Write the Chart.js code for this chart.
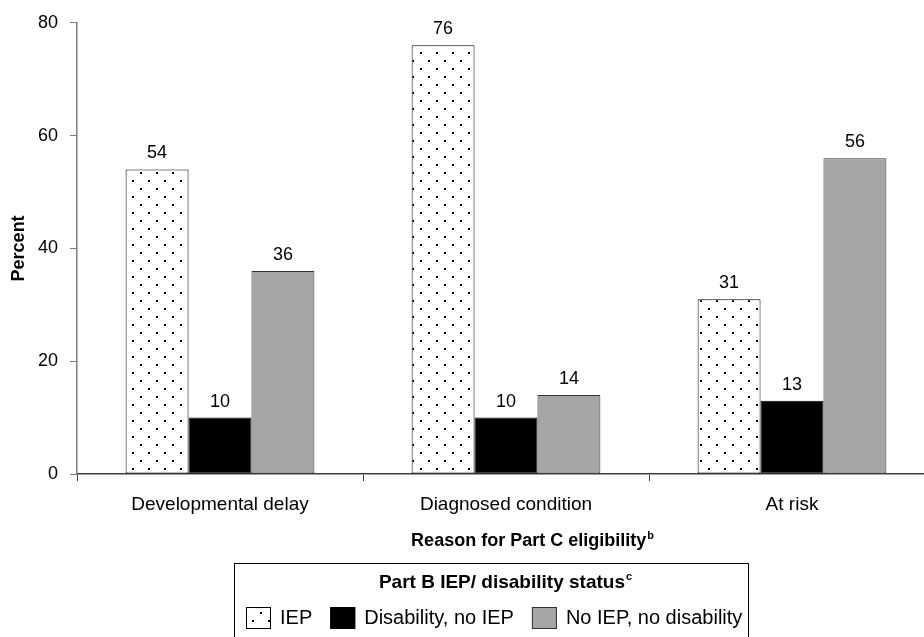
<!DOCTYPE html>
<html>
<head>
<meta charset="utf-8">
<script src="https://cdn.jsdelivr.net/npm/chart.js@4.4.0/dist/chart.umd.min.js"></script>
<style>
    html, body { margin: 0; padding: 0; background: #fff; overflow: hidden; }
    #wrap { width: 936px; height: 637px; }
</style>
</head>
<body>
<div id="wrap"><canvas id="chart" width="936" height="637"></canvas></div>
<script>
// Données du graphique
const categories = ['Developmental delay', 'Diagnosed condition', 'At risk'];
const seriesNames = ['IEP', 'Disability, no IEP', 'No IEP, no disability'];
const iepValues = [54, 76, 31];
const disabilityNoIepValues = [10, 10, 13];
const noIepNoDisabilityValues = [36, 14, 56];
const yTicks = [0, 20, 40, 60, 80];

const FONT = '"Liberation Sans", Arial, sans-serif';

// Motif pointillé pour la série IEP
function makeDotPattern() {
    const c = document.createElement('canvas');
    c.width = 16;
    c.height = 16;
    const g = c.getContext('2d');
    g.fillStyle = '#ffffff';
    g.fillRect(0, 0, 16, 16);
    g.fillStyle = '#000000';
    g.fillRect(4, 4, 2, 2);
    g.fillRect(12, 12, 2, 2);
    return document.getElementById('chart').getContext('2d').createPattern(c, 'repeat');
}

const dots = makeDotPattern();
const fills = [dots, '#000000', '#a6a6a6'];
const borders = ['#000000', '#000000', '#333333'];

// Texte avec exposant
function drawSupText(ctx, text, sup, cx, cy, size) {
    ctx.save();
    ctx.font = 'bold ' + size + 'px ' + FONT;
    const w1 = ctx.measureText(text).width;
    ctx.font = 'bold ' + Math.round(size * 0.6) + 'px ' + FONT;
    const w2 = ctx.measureText(sup).width;
    const x0 = cx - (w1 + w2) / 2;
    ctx.fillStyle = '#000';
    ctx.textBaseline = 'middle';
    ctx.textAlign = 'left';
    ctx.font = 'bold ' + size + 'px ' + FONT;
    ctx.fillText(text, x0, cy);
    ctx.font = 'bold ' + Math.round(size * 0.6) + 'px ' + FONT;
    ctx.fillText(sup, x0 + w1 + 1, cy - size * 0.3);
    ctx.restore();
}

// Étiquettes de valeurs, titre de l'axe X et légende
const extrasPlugin = {
    id: 'extras',
    afterDatasetsDraw(chart) {
        const ctx = chart.ctx;
        ctx.save();
        ctx.font = '18px ' + FONT;
        ctx.fillStyle = '#000';
        ctx.textAlign = 'center';
        ctx.textBaseline = 'middle';
        chart.data.datasets.forEach((ds, i) => {
            chart.getDatasetMeta(i).data.forEach((bar, j) => {
                ctx.fillText(String(ds.data[j]), bar.x, bar.y - 16);
            });
        });
        ctx.restore();
    },
    afterDraw(chart) {
        const ctx = chart.ctx;
        // Titre de l'axe X
        drawSupText(ctx, 'Reason for Part C eligibility', 'b', 532, 541, 18);

        // Cadre de la légende
        ctx.save();
        ctx.strokeStyle = '#000';
        ctx.lineWidth = 1;
        ctx.strokeRect(234.5, 563.5, 514, 100);
        ctx.restore();
        drawSupText(ctx, 'Part B IEP/ disability status', 'c', 505, 583, 19);

        // Éléments de la légende
        ctx.save();
        ctx.font = '20px ' + FONT;
        ctx.textBaseline = 'middle';
        ctx.textAlign = 'left';
        let x = 246;
        seriesNames.forEach((name, i) => {
            ctx.fillStyle = fills[i];
            ctx.fillRect(x, 607, 25, 22);
            ctx.strokeStyle = borders[i];
            ctx.lineWidth = 1;
            ctx.strokeRect(x + 0.5, 607.5, 24, 21);
            ctx.fillStyle = '#000';
            ctx.fillText(name, x + 34, 618);
            x += 34 + ctx.measureText(name).width + 18;
        });
        ctx.restore();
    }
};

const chart = new Chart(document.getElementById('chart'), {
    type: 'bar',
    data: {
        labels: categories,
        datasets: [
            { label: seriesNames[0], data: iepValues, backgroundColor: fills[0], borderColor: borders[0] },
            { label: seriesNames[1], data: disabilityNoIepValues, backgroundColor: fills[1], borderColor: borders[1] },
            { label: seriesNames[2], data: noIepNoDisabilityValues, backgroundColor: fills[2], borderColor: borders[2] }
        ].map(d => Object.assign(d, { borderWidth: 1, borderSkipped: false, categoryPercentage: 0.66, barPercentage: 1 }))
    },
    options: {
        responsive: false,
        animation: false,
        layout: { padding: { top: 22, right: 1, bottom: 0, left: 0 } },
        plugins: {
            legend: { display: false },
            tooltip: { enabled: false }
        },
        scales: {
            x: {
                grid: { drawOnChartArea: false, drawTicks: true, tickLength: 7, color: '#404040', offset: true },
                border: { color: '#404040', width: 1.5 },
                ticks: { color: '#000', font: { family: FONT, size: 19 }, padding: 12, maxRotation: 0 },
                afterFit(scale) { scale.height = 163; }
            },
            y: {
                min: 0,
                max: 80,
                afterBuildTicks(scale) { scale.ticks = yTicks.map(v => ({ value: v })); },
                grid: { drawOnChartArea: false, drawTicks: true, tickLength: 7, color: '#7f7f7f' },
                border: { color: '#7f7f7f', width: 1.5 },
                ticks: { color: '#000', font: { family: FONT, size: 18 }, padding: 12 },
                title: { display: true, text: 'Percent', color: '#000', font: { family: FONT, size: 18, weight: 'bold' }, padding: { top: 8, bottom: 0 } },
                afterFit(scale) { scale.width = 77; }
            }
        }
    },
    plugins: [extrasPlugin]
});
</script>
</body>
</html>
